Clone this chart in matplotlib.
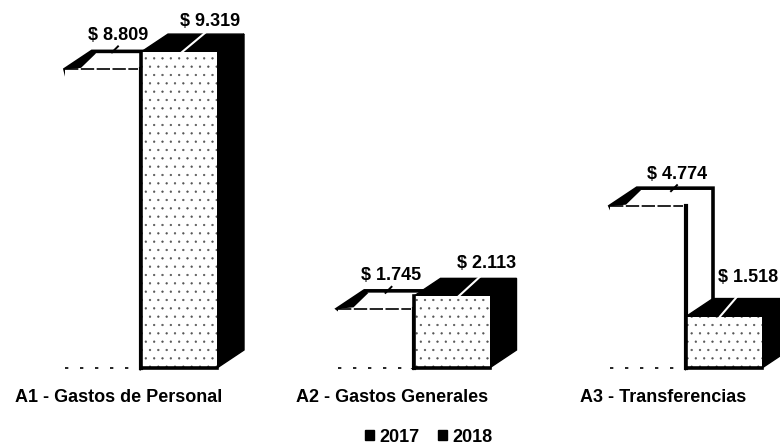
import matplotlib
matplotlib.use("Agg")
import matplotlib.pyplot as plt
from matplotlib.patches import Polygon, Patch
import numpy as np

categories = ["A1 - Gastos de Personal", "A2 - Gastos Generales", "A3 - Transferencias"]
values_2017 = [8809, 1745, 4774]
values_2018 = [9319, 2113, 1518]
labels_2017 = ["$ 8.809", "$ 1.745", "$ 4.774"]
labels_2018 = ["$ 9.319", "$ 2.113", "$ 1.518"]

# layout (pixels of the 780x444 figure)
W, H = 780, 444
BASE = 368
PX_PER_VAL = 0.0339
GROUP_PX = [141, 412, 686]
SPACING = 272.5
BAR_PX = 76
DX_PX, DY_PX = 27, 18
LABEL_2017_OFF = [(-23, 34), (-22, 33), (-9, 32)]
LABEL_2018_OFF = [(69, 31), (73, 33), (62, 39)]
CAT_LEFT = [15, 296, 580]
FS = 13

plt.rcParams["font.family"] = ["Liberation Sans", "DejaVu Sans"]
plt.rcParams["hatch.linewidth"] = 0.4
plt.rcParams["hatch.color"] = "#555555"

fig = plt.figure(figsize=(W / 100, H / 100), dpi=100)
ax = fig.add_axes([0, 0, 1, 1])
x0 = GROUP_PX[0] / SPACING
ax.set_xlim(-x0, (W - GROUP_PX[0]) / SPACING)
ax.set_ylim(-(H - BASE) / PX_PER_VAL, BASE / PX_PER_VAL)
ax.axis("off")

px = 1 / SPACING
py = 1 / PX_PER_VAL
w = BAR_PX * px
dx, dy = DX_PX * px, DY_PX * py
xs = np.arange(len(categories))

for i, (v7, v8) in enumerate(zip(values_2017, values_2018)):
    c = xs[i]
    # 2017: white box; top and side share one outline
    l7, r7 = c - w, c
    ax.add_patch(Polygon([(l7, v7), (l7 + dx, v7 + dy), (r7 + dx, v7 + dy), (r7 + dx, dy), (r7, 0)],
                         fc="white", ec="black", lw=2.6, zorder=1.5, joinstyle="miter"))
    ax.bar(l7, v7, width=w, align="edge", color="white", edgecolor="none", zorder=2)
    ax.add_patch(Polygon([(l7, v7), (l7 + dx, v7 + dy), (l7 + dx + 4 * px, v7 + dy - 2 * py),
                          (l7 + 16 * px, v7 + 1.5 * py)],
                         fc="black", ec="none", zorder=2.1))
    ax.plot([l7, r7 - 3 * px], [v7, v7], color="black", lw=1.2, ls=(0, (8, 1.5)), zorder=2.1)
    ax.plot([r7, r7], [0, v7], color="black", lw=3, zorder=2.2)
    ax.plot([l7, r7], [0, 0], color="black", lw=1.2, ls=(0, (2, 7)), zorder=2.2)
    # 2018: black top and side, stippled front
    l8, r8 = c, c + w
    ax.add_patch(Polygon([(r8, 0), (r8 + dx, dy), (r8 + dx, v8 + dy), (r8, v8)],
                         fc="black", ec="black", lw=1, zorder=3))
    ax.add_patch(Polygon([(l8, v8), (l8 + dx, v8 + dy), (r8 + dx, v8 + dy), (r8, v8)],
                         fc="black", ec="black", lw=1, zorder=3))
    ax.bar(l8, v8, width=w, align="edge", facecolor="white", edgecolor="#555555",
           hatch="..", lw=0, zorder=4)
    ax.plot([l8, l8, r8], [v8, 0, 0], color="black", lw=2.6, zorder=5)
    # leaders and value labels
    ox, oy = LABEL_2017_OFF[i]
    ax.plot([c + ox * px - 6 * px, c + ox * px + 0 * px],
            [v7 + (oy - 17) * py, v7 + (oy - 11) * py], color="black", lw=1.4, zorder=6)
    ax.text(c + ox * px, v7 + oy * py, labels_2017[i], ha="center", va="center",
            fontsize=FS, fontweight="bold", zorder=7)
    ox, oy = LABEL_2018_OFF[i]
    ax.plot([c + (ox - 28) * px, c + (ox - 4) * px], [v8, v8 + (oy - 11) * py],
            color="white", lw=1.5, zorder=6)
    ax.text(c + ox * px, v8 + oy * py, labels_2018[i], ha="center", va="center",
            fontsize=FS, fontweight="bold", zorder=7)
    # category label
    fig.text(CAT_LEFT[i] / W, 1 - 398 / H, categories[i], ha="left", va="center",
             fontsize=FS, fontweight="bold")

handles = [Patch(color="black", label="2017"), Patch(color="black", label="2018")]
fig.legend(handles=handles, loc="center", bbox_to_anchor=(429 / W, 1 - 437 / H), ncol=2,
           frameon=False, prop={"weight": "bold", "size": FS}, handlelength=0.5,
           handleheight=0.5, handletextpad=0.3, columnspacing=1.0, borderpad=0)

fig.savefig("out.png", dpi=100)
